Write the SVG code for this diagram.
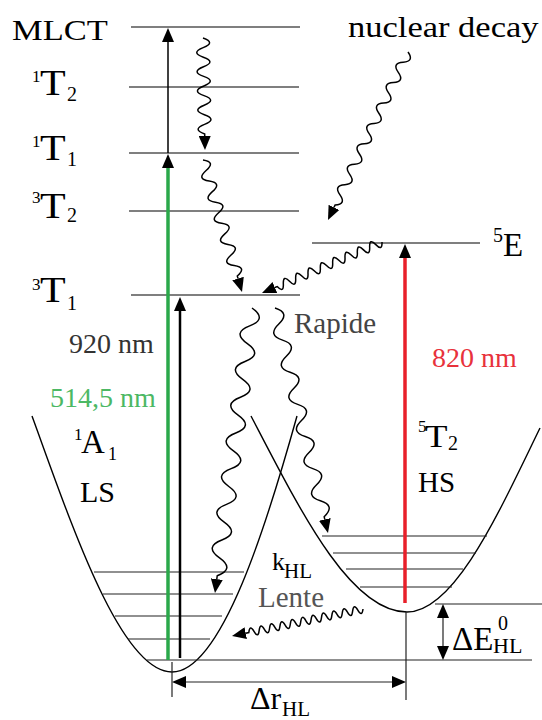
<svg xmlns="http://www.w3.org/2000/svg" width="542" height="720" viewBox="0 0 542 720">
<style>
.lvl{stroke:#555;stroke-width:1.5;fill:none}
.vib{stroke:#222;stroke-width:1.2;fill:none}
.pes{stroke:#000;stroke-width:1.4;fill:none}
.wave{stroke:#000;stroke-width:1.5;fill:none}
.dim{stroke:#222;stroke-width:1.2;fill:none}
</style>
<defs>
<marker id="ah" viewBox="0 0 14 12" refX="0" refY="6" markerWidth="14" markerHeight="12" orient="auto-start-reverse" markerUnits="userSpaceOnUse">
<path d="M0,0L14,6L0,12z" fill="#000"/>
</marker>
</defs>
<rect width="542" height="720" fill="#fff"/>

<g id="levels">
<g id="MLCT"><line class="lvl" x1="131" y1="27" x2="300" y2="27"/><text font-family="Liberation Serif" style="font-family:'Liberation Serif'" font-size="30" transform="translate(12,40) scale(1.15,1)">MLCT</text></g>
<g id="T2_singlet"><line class="lvl" x1="129" y1="87" x2="299" y2="87"/><text font-family="Liberation Serif" style="font-family:'Liberation Serif'" x="32" y="82" font-size="17">1</text><text font-family="Liberation Serif" style="font-family:'Liberation Serif'" font-size="35" transform="translate(40,95) scale(1.2,1)">T</text><text font-family="Liberation Serif" style="font-family:'Liberation Serif'" x="67" y="101" font-size="20">2</text></g>
<g id="T1_singlet"><line class="lvl" x1="129" y1="153" x2="299" y2="153"/><text font-family="Liberation Serif" style="font-family:'Liberation Serif'" x="32" y="147" font-size="17">1</text><text font-family="Liberation Serif" style="font-family:'Liberation Serif'" font-size="35" transform="translate(40,160) scale(1.2,1)">T</text><text font-family="Liberation Serif" style="font-family:'Liberation Serif'" x="67" y="166" font-size="20">1</text></g>
<g id="T2_triplet"><line class="lvl" x1="129" y1="211" x2="299" y2="211"/><text font-family="Liberation Serif" style="font-family:'Liberation Serif'" x="32" y="203" font-size="17">3</text><text font-family="Liberation Serif" style="font-family:'Liberation Serif'" font-size="35" transform="translate(40,218) scale(1.2,1)">T</text><text font-family="Liberation Serif" style="font-family:'Liberation Serif'" x="67" y="222" font-size="20">2</text></g>
<g id="T1_triplet"><line class="lvl" x1="131" y1="295" x2="300" y2="295"/><text font-family="Liberation Serif" style="font-family:'Liberation Serif'" x="32" y="290" font-size="17">3</text><text font-family="Liberation Serif" style="font-family:'Liberation Serif'" font-size="35" transform="translate(40,302) scale(1.2,1)">T</text><text font-family="Liberation Serif" style="font-family:'Liberation Serif'" x="67" y="310" font-size="20">1</text></g>
<g id="E5"><line class="lvl" x1="312" y1="243" x2="480" y2="243"/><text font-family="Liberation Serif" style="font-family:'Liberation Serif'" x="493" y="242" font-size="20">5</text><text font-family="Liberation Serif" style="font-family:'Liberation Serif'" x="503" y="256" font-size="33">E</text></g>
<g id="nuclear"><text font-family="Liberation Serif" style="font-family:'Liberation Serif'" font-size="29" transform="translate(348,37) scale(1.19,1)">nuclear decay</text></g>
</g>

<g id="LS">
<path class="pes" d="M32,416 C70,520 120,672 172,672 C222,672 268,520 297,416"/>
<line class="vib" x1="94" y1="572" x2="244" y2="572"/>
<line class="vib" x1="103" y1="594" x2="233" y2="594"/>
<line class="vib" x1="115" y1="616" x2="222" y2="616"/>
<line class="vib" x1="128" y1="639" x2="210" y2="639"/>
<line class="vib" x1="147" y1="660" x2="532" y2="660"/>
<text font-family="Liberation Serif" style="font-family:'Liberation Serif'" x="74" y="440" font-size="17">1</text><text font-family="Liberation Serif" style="font-family:'Liberation Serif'" x="81" y="453" font-size="33">A</text><text font-family="Liberation Serif" style="font-family:'Liberation Serif'" x="108" y="460" font-size="18">1</text>
<text font-family="Liberation Serif" style="font-family:'Liberation Serif'" x="80" y="502" font-size="30">LS</text>
</g>

<g id="HS">
<path class="pes" d="M251,416 C300,510 350,612 407,612 C455,612 500,510 540,428"/>
<line class="vib" x1="322" y1="536" x2="487" y2="536"/>
<line class="vib" x1="333" y1="553" x2="476" y2="553"/>
<line class="vib" x1="346" y1="569" x2="463" y2="569"/>
<line class="vib" x1="360" y1="587" x2="452" y2="587"/>
<line class="vib" x1="435" y1="604" x2="542" y2="604"/>
<text font-family="Liberation Serif" style="font-family:'Liberation Serif'" x="418" y="432" font-size="17">5</text><text font-family="Liberation Serif" style="font-family:'Liberation Serif'" font-size="32" transform="translate(425,447) scale(1.15,1)">T</text><text font-family="Liberation Serif" style="font-family:'Liberation Serif'" x="448" y="450" font-size="20">2</text>
<text font-family="Liberation Serif" style="font-family:'Liberation Serif'" x="418" y="492" font-size="29">HS</text>
</g>

<g id="labels">
<text font-family="Liberation Serif" style="font-family:'Liberation Serif'" x="69" y="353" font-size="28" fill="#333">920 nm</text>
<text font-family="Liberation Serif" style="font-family:'Liberation Serif'" x="50" y="407" font-size="28" fill="#4cb864">514,5 nm</text>
<text font-family="Liberation Serif" style="font-family:'Liberation Serif'" x="432" y="367" font-size="28" fill="#e8323c">820 nm</text>
<text font-family="Liberation Serif" style="font-family:'Liberation Serif'" x="294" y="333" font-size="29" fill="#444">Rapide</text>
<text font-family="Liberation Serif" style="font-family:'Liberation Serif'" x="258" y="607" font-size="29" fill="#555">Lente</text>
<text font-family="Liberation Serif" style="font-family:'Liberation Serif'" x="272" y="570" font-size="26">k</text><text font-family="Liberation Serif" style="font-family:'Liberation Serif'" x="284" y="578" font-size="21">HL</text>
<text font-family="Liberation Serif" style="font-family:'Liberation Serif'" x="452" y="650" font-size="33">ΔE</text><text font-family="Liberation Serif" style="font-family:'Liberation Serif'" x="498" y="630" font-size="20">0</text><text font-family="Liberation Serif" style="font-family:'Liberation Serif'" x="493" y="653" font-size="22">HL</text>
<text font-family="Liberation Serif" style="font-family:'Liberation Serif'" x="250" y="709" font-size="32">Δr</text><text font-family="Liberation Serif" style="font-family:'Liberation Serif'" x="282" y="716" font-size="21">HL</text>
</g>

<g id="connectors">
<line x1="168" y1="153" x2="168" y2="42" stroke="#000" stroke-width="1.5" marker-end="url(#ah)"/>
<line x1="168" y1="660" x2="168" y2="168" stroke="#2aa84a" stroke-width="3.5" marker-end="url(#ah)"/>
<line x1="180" y1="658" x2="180" y2="311" stroke="#000" stroke-width="2.5" marker-end="url(#ah)"/>
<line x1="405" y1="603" x2="405" y2="258" stroke="#e8202a" stroke-width="3.5" marker-end="url(#ah)"/>
<line class="dim" x1="443" y1="618" x2="443" y2="646" marker-start="url(#ah)" marker-end="url(#ah)"/>
<line class="dim" x1="186" y1="682" x2="392" y2="682" marker-start="url(#ah)" marker-end="url(#ah)"/>
<line class="dim" x1="172" y1="662" x2="172" y2="697"/>
<line class="dim" x1="406" y1="612" x2="406" y2="700"/>
<path class="wave" marker-end="url(#ah)" transform="translate(203,38) rotate(88.98)" d="M0,0 q4.8,-13 9.6,0 t9.6,0 t9.6,0 t9.6,0 t9.6,0 t9.6,0 t9.6,0 t9.6,0 t9.6,0 t9.6,0 l2,0"/>
<path class="wave" marker-end="url(#ah)" transform="translate(203,160) rotate(73.54)" d="M0,0 q5.5,-12 11,0 t11,0 t11,0 t11,0 t11,0 t11,0 t11,0 t11,0 t11,0 t11,0 t11,0 l2.6,0"/>
<path class="wave" marker-end="url(#ah)" transform="translate(382,242) rotate(156.97)" d="M0,0 q3.35,-9 6.7,0 t6.7,0 t6.7,0 t6.7,0 t6.7,0 t6.7,0 t6.7,0 t6.7,0 t6.7,0 t6.7,0 t6.7,0 t6.7,0 t6.7,0 t6.7,0 t6.7,0 t6.7,0 t6.7,0 l2.5,0"/>
<path class="wave" marker-end="url(#ah)" transform="translate(408,52) rotate(115.46)" d="M0,0 q5.65,-10 11.3,0 t11.3,0 t11.3,0 t11.3,0 t11.3,0 t11.3,0 t11.3,0 t11.3,0 t11.3,0 t11.3,0 t11.3,0 t11.3,0 t11.3,0 t11.3,0 t11.3,0 l2.6,0"/>
<path class="wave" marker-end="url(#ah)" transform="translate(252,308) rotate(97.4)" d="M0,0 q9,-17 18,0 t18,0 t18,0 t18,0 t18,0 t18,0 t18,0 t18,0 t18,0 t18,0 t18,0 t18,0 t18,0 t18,0 t18,0 l3.4,0"/>
<path class="wave" marker-end="url(#ah)" transform="translate(275,308) rotate(76.75)" d="M0,0 q8.25,-14 16.5,0 t16.5,0 t16.5,0 t16.5,0 t16.5,0 t16.5,0 t16.5,0 t16.5,0 t16.5,0 t16.5,0 t16.5,0 t16.5,0 t16.5,0 l2.7,0"/>
<path class="wave" marker-end="url(#ah)" transform="translate(363,609) rotate(168.35)" d="M0,0 q2.65,-8 5.3,0 t5.3,0 t5.3,0 t5.3,0 t5.3,0 t5.3,0 t5.3,0 t5.3,0 t5.3,0 t5.3,0 t5.3,0 t5.3,0 t5.3,0 t5.3,0 t5.3,0 t5.3,0 t5.3,0 t5.3,0 t5.3,0 t5.3,0 t5.3,0 t5.3,0 l3.15,0"/>
</g>
</svg>
